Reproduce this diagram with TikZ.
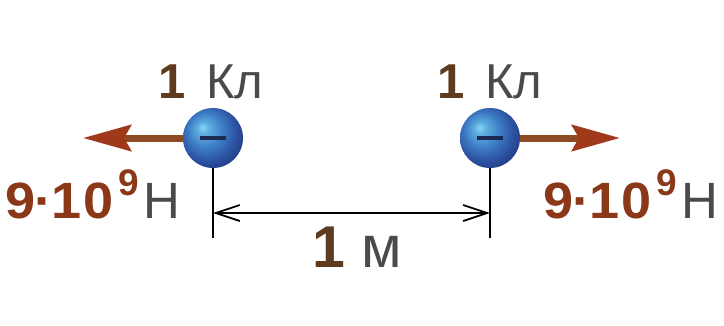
\documentclass[tikz,border=0pt]{standalone}
\usepackage{fontspec}
\setmainfont{Liberation Sans}
\usetikzlibrary{arrows.meta}
\definecolor{numbrown}{HTML}{5E3A1E}
\definecolor{forcebrown}{HTML}{8A3818}
\definecolor{unitgray}{HTML}{4A4A4A}
\definecolor{arrowshaft}{HTML}{8E4A22}
\definecolor{arrowtip}{HTML}{A0381A}
\definecolor{minusnavy}{HTML}{1C2A52}
\definecolor{ballA}{HTML}{86D6F2}
\definecolor{ballB}{HTML}{5CAEE0}
\definecolor{ballC}{HTML}{3C7AC4}
\definecolor{ballD}{HTML}{2C52A2}
\definecolor{ballE}{HTML}{243F86}
\pgfdeclareradialshading{chargeball}{\pgfpoint{-9bp}{9bp}}{%
  color(0bp)=(ballA); color(5bp)=(ballB); color(15bp)=(ballC);
  color(24bp)=(ballD); color(30bp)=(ballE); color(50bp)=(ballE)}
\newcommand\unitg[1]{{\color{unitgray}#1}}
\newcommand\numb[1]{{\bfseries\color{numbrown}#1}}
\newcommand\forcetext{{\bfseries\color{forcebrown}\scalebox{1.06}[1]{9\kern-1pt·\kern-1pt1\kern2pt0}\kern5pt\raisebox{23pt}{\fontsize{37}{37}\selectfont 9}}\kern5pt\unitg{Н}}
\begin{document}
\begin{tikzpicture}[x=1pt,y=-1pt,
  charge/.style={circle,minimum size=60pt,inner sep=0pt,shade,shading=chargeball},
  minussign/.style={line width=3.5pt,draw=minusnavy},
  forcearrow/.style={line width=7pt,draw=arrowshaft,-{Stealth[length=48pt,width=26pt,inset=7pt,color=arrowtip]}},
  ticks/.style={line width=1.8pt,draw=black},
  dimline/.style={line width=1.8pt,draw=black,{Straight Barb[length=24pt,width=16pt]}-{Straight Barb[length=24pt,width=16pt]}},
  lbl/.style={inner sep=0pt,anchor=base west},
  bigfont/.style={font=\fontsize{49}{49}\selectfont},
  forcefont/.style={font=\fontsize{51}{51}\selectfont},
  distfont/.style={font=\fontsize{59}{59}\selectfont}
  ]
\useasboundingbox[fill=white] (0,0) rectangle (724,325);
% charges
\node[charge] (b1) at (213,138) {};
\node[charge] (b2) at (490,138) {};
\draw[minussign] ([xshift=-13pt]b1.center) -- ([xshift=13pt]b1.center);
\draw[minussign] ([xshift=-13pt]b2.center) -- ([xshift=13pt]b2.center);
% force arrows
\coordinate (f1) at (83,138);
\coordinate (f2) at (620,138);
\draw[forcearrow] (b1.west) -- (f1);
\draw[forcearrow] (b2.east) -- (f2);
% ticks and dimension line
\coordinate (t1) at (213,238);
\coordinate (t2) at (490,238);
\draw[ticks] (b1.south) -- (t1);
\draw[ticks] (b2.south) -- (t2);
\coordinate (d1) at (213,213);
\coordinate (d2) at (490,213);
\draw[dimline] (d1) -- (d2);
% labels
\node[lbl,bigfont] (q1) at (158,98) {\numb{1} \kern7pt\unitg{Кл}};
\node[lbl,bigfont] (q2) at (437,98) {\numb{1} \kern7pt\unitg{Кл}};
\node[lbl,forcefont] (F1) at (5,218) {\forcetext};
\node[lbl,forcefont] (F2) at (543,218) {\forcetext};
\node[lbl,distfont] (r) at (312,267) {\numb{1} \unitg{м}};
\end{tikzpicture}
\end{document}
